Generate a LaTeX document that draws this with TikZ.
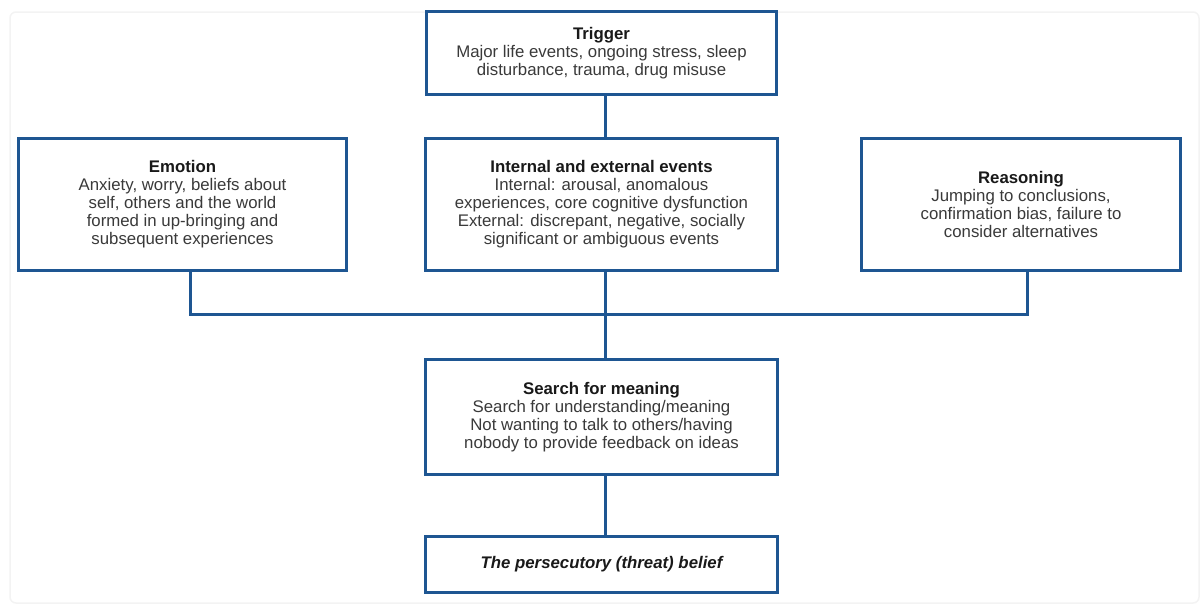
\documentclass[tikz,border=0pt]{standalone}
\usepackage{fontspec}
\setmainfont{Liberation Sans}
\usetikzlibrary{calc}
\definecolor{lineblue}{RGB}{30,86,146}
\definecolor{bodytext}{RGB}{58,58,58}
\definecolor{titletext}{RGB}{25,25,25}
\definecolor{framegray}{RGB}{243,243,243}
\tikzset{
  x=1pt,y=-1pt,
  box/.style={draw=lineblue,line width=3pt,fill=white,align=center,inner sep=0pt,
    font=\fontsize{16.8}{18}\selectfont,text=bodytext},
  link/.style={draw=lineblue,line width=3pt},
}
\newcommand{\ttl}[1]{{\color{titletext}\bfseries #1}}
\begin{document}
\begin{tikzpicture}
\useasboundingbox (0,0) rectangle (1202,606);
\fill[white] (0,0) rectangle (1202,606);
\draw[framegray,line width=1.5pt,rounded corners=6pt] (10,12) rectangle (1199,603);
\node[box,minimum width=350pt,minimum height=83pt] (trig) at (601.5,53) {\ttl{Trigger}\\Major life events, ongoing stress, sleep\\disturbance, trauma, drug misuse};
\node[box,minimum width=328pt,minimum height=132pt] (emo) at (182.5,204.5) {\ttl{Emotion}\\Anxiety, worry, beliefs about\\self, others and the world\\formed in up-bringing and\\subsequent experiences};
\node[box,minimum width=352pt,minimum height=132pt] (evt) at (601.5,204.5) {\ttl{Internal and external events}\\Internal: arousal, anomalous\\experiences, core cognitive dysfunction\\External: discrepant, negative, socially\\significant or ambiguous events};
\node[box,minimum width=319pt,minimum height=132pt] (rea) at (1021,204.5) {\ttl{Reasoning}\\Jumping to conclusions,\\confirmation bias, failure to\\consider alternatives};
\node[box,minimum width=352pt,minimum height=115pt] (srch) at (601.5,417) {\ttl{Search for meaning}\\Search for understanding/meaning\\Not wanting to talk to others/having\\nobody to provide feedback on ideas};
\node[box,minimum width=352pt,minimum height=56pt] (bel) at (601.5,564.5) {\color{titletext}\bfseries\itshape The persecutory (threat) belief};
\coordinate (spine) at (605,314);
\coordinate (jl) at (190,314);
\coordinate (jr) at (1027,314);
\draw[link] (trig.south -| spine) -- (evt.north -| spine);
\draw[link] (evt.south -| spine) -- (srch.north -| spine);
\draw[link] (emo.south -| jl) -- (jl) -- (jr) -- (rea.south -| jr);
\draw[link] (srch.south -| spine) -- (bel.north -| spine);
\end{tikzpicture}
\end{document}
